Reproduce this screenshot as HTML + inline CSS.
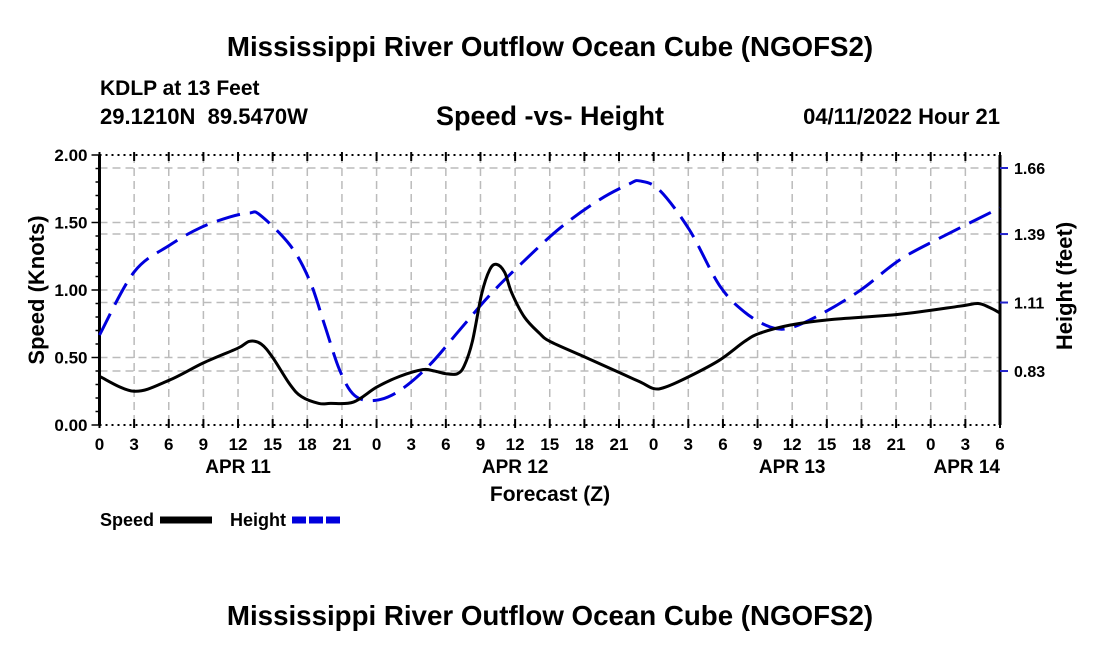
<!DOCTYPE html>
<html><head><meta charset="utf-8"><style>
body{margin:0;background:#fff;width:1100px;height:650px;overflow:hidden}
svg{font-family:"Liberation Sans",sans-serif;font-weight:bold}
</style></head><body>
<svg id="c" width="1100" height="650">
<text x="550" y="56" text-anchor="middle" font-size="27.7">Mississippi River Outflow Ocean Cube (NGOFS2)</text>
<text x="100" y="95" font-size="21">KDLP at 13 Feet</text>
<text x="100" y="124" font-size="22" xml:space="preserve">29.1210N  89.5470W</text>
<text x="550" y="125" text-anchor="middle" font-size="27">Speed -vs- Height</text>
<text x="1000" y="124" text-anchor="end" font-size="22">04/11/2022 Hour 21</text>
<text x="550" y="625" text-anchor="middle" font-size="27.7">Mississippi River Outflow Ocean Cube (NGOFS2)</text>
<text x="550" y="501" text-anchor="middle" font-size="21">Forecast (Z)</text>
<text transform="translate(44,290) rotate(-90)" text-anchor="middle" font-size="22">Speed (Knots)</text>
<text transform="translate(1072,286) rotate(-90)" text-anchor="middle" font-size="22">Height (feet)</text>
<g>
<text x="100" y="526" font-size="18">Speed</text>
<line x1="160" y1="520" x2="212" y2="520" stroke="#000" stroke-width="7"/>
<text x="230" y="526" font-size="18">Height</text>
<line x1="292" y1="520" x2="342" y2="520" stroke="#0000dd" stroke-width="7" stroke-dasharray="14,3"/>
</g>
<g id="plot"></g>
</svg>
<script>
const xTickLabels=["0","3","6","9","12","15","18","21","0","3","6","9","12","15","18","21","0","3","6","9","12","15","18","21","0","3","6"];
const dayLabels=["APR 11","APR 12","APR 13","APR 14"];
const dayHours=[12,36,60,78];
const speedTicks=[0,0.5,1,1.5,2];
const heightTicks=[0.83,1.11,1.39,1.66];
const speedHours=[0,3,6,9,12,13,14,15,16.5,17.5,19,20,22,24,26,28,29,30,31,31.6,32.3,33.1,33.8,34.4,35.1,35.7,36.8,38.1,39,41.6,44.2,46.8,48,49,51.1,53.7,55.9,57.2,59.8,63.2,69.3,74.5,76.1,77.1,78];
const speedVals=[0.36,0.25,0.33,0.46,0.57,0.62,0.60,0.50,0.30,0.21,0.16,0.16,0.17,0.28,0.36,0.41,0.40,0.38,0.38,0.44,0.62,0.97,1.15,1.19,1.13,0.98,0.80,0.68,0.62,0.52,0.42,0.32,0.27,0.28,0.36,0.48,0.62,0.68,0.74,0.78,0.82,0.88,0.90,0.87,0.83];
const heightHours=[0,3,6.1,8.7,11.3,13,13.9,16.5,18.2,19.5,20.8,22.1,23.9,26,28.6,31.2,33.8,36.4,39.9,43.3,45.9,46.8,48.5,51.1,53.7,55.9,58.1,59.8,62.4,65.9,69.3,72.8,78];
const heightVals=[0.977,1.235,1.345,1.415,1.46,1.476,1.468,1.345,1.20,1.018,0.834,0.73,0.71,0.75,0.855,0.998,1.14,1.263,1.415,1.53,1.595,1.607,1.57,1.407,1.18,1.07,1.01,1.006,1.06,1.16,1.284,1.374,1.497];

const L=99.5,R=1000,T=155,B=425;
const xs=h=>L+(R-L)*h/78;
const ys=v=>B-(B-T)*v/2;
const yh=v=>168+(1.66-v)*244.6;
const g=document.getElementById('plot');
const NS='http://www.w3.org/2000/svg';
function mk(tag,attrs,parent){const e=document.createElementNS(NS,tag);for(const k in attrs)e.setAttribute(k,attrs[k]);(parent||g).appendChild(e);return e;}
for(let i=1;i<26;i++){const l=mk('line',{x1:xs(i*3),x2:xs(i*3),y1:T,y2:B,stroke:'#bbb','stroke-width':1.5,'stroke-dasharray':'8,5'});

}
speedTicks.slice(1,4).forEach(v=>{const l=mk('line',{x1:L,x2:R,y1:ys(v),y2:ys(v),stroke:'#bbb','stroke-width':1.5,'stroke-dasharray':'8,5'});

});
heightTicks.forEach(v=>{const l=mk('line',{x1:L,x2:R,y1:yh(v),y2:yh(v),stroke:'#bbb','stroke-width':1.5,'stroke-dasharray':'8,5'});

});
const axFrame=mk('path',{d:`M${L},${T}V${B}M${R},${B}V${T}`,fill:'none',stroke:'#000','stroke-width':3});


const topAxis=mk('line',{x1:L,x2:R,y1:T,y2:T,stroke:'#000','stroke-width':2,'stroke-dasharray':'2,4'});


const botAxis=mk('line',{x1:L,x2:R,y1:B,y2:B,stroke:'#000','stroke-width':2,'stroke-dasharray':'2,4'});


xTickLabels.forEach((t,i)=>{const x=xs(i*3);
mk('line',{x1:x,x2:x,y1:T-3,y2:T+6,stroke:'#000','stroke-width':2});
mk('line',{x1:x,x2:x,y1:B-6,y2:B+3,stroke:'#000','stroke-width':2});
const tx=mk('text',{x:x,y:B+25,'text-anchor':'middle','font-size':17});tx.textContent=t;

});
dayLabels.forEach((d,i)=>{const tx=mk('text',{x:i==3?R:xs(dayHours[i]),y:B+48,'text-anchor':i==3?'end':'middle','font-size':19});tx.textContent=d;

});
for(let k=0;k<=20;k++){const v=k/10;mk('line',{x1:L-(k%5==0?8:4),x2:L,y1:ys(v),y2:ys(v),stroke:'#000','stroke-width':1.5});}
speedTicks.forEach(v=>{const tx=mk('text',{x:L-12,y:ys(v)+6,'text-anchor':'end','font-size':17});tx.textContent=v.toFixed(2);

});
heightTicks.forEach(v=>{mk('line',{x1:R,x2:R+8,y1:yh(v),y2:yh(v),stroke:'#2222cc','stroke-width':2});
const tx=mk('text',{x:R+14,y:yh(v)+6,'font-size':16});tx.textContent=v.toFixed(2);

});
function smooth(pts){let d=`M${pts[0][0]},${pts[0][1]}`;
for(let i=0;i<pts.length-1;i++){const p0=pts[Math.max(0,i-1)],p1=pts[i],p2=pts[i+1],p3=pts[Math.min(pts.length-1,i+2)];
d+=`C${p1[0]+(p2[0]-p0[0])/6},${p1[1]+(p2[1]-p0[1])/6} ${p2[0]-(p3[0]-p1[0])/6},${p2[1]-(p3[1]-p1[1])/6} ${p2[0]},${p2[1]}`;}return d;}
const hl=mk('path',{d:smooth(heightHours.map((h,i)=>[xs(h),yh(heightVals[i])])),fill:'none',stroke:'#0000dd','stroke-width':3,'stroke-dasharray':'24,10'});


const sl=mk('path',{d:smooth(speedHours.map((h,i)=>[xs(h),ys(speedVals[i])])),fill:'none',stroke:'#000','stroke-width':3});


</script>
</body></html>
